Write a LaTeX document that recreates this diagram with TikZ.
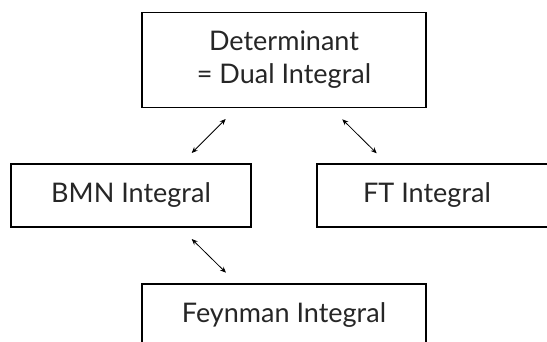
\documentclass[tikz,border=0pt]{standalone}
\usepackage{fontspec}
\setmainfont{Lato}
\usetikzlibrary{arrows.meta}
\begin{document}
\begin{tikzpicture}[x=1pt,y=-1pt,
  box/.style={draw=black, line width=1.3pt, inner sep=0pt, minimum width=240pt, minimum height=63pt,
    font=\fontsize{27}{33}\selectfont, text=black!85},
  lbl/.style={inner sep=0pt, font=\fontsize{27}{33}\selectfont, text=black!85},
  link/.style={line width=0.8pt, {Stealth[length=6pt,width=5pt]}-{Stealth[length=6pt,width=5pt]}}]
\useasboundingbox (0,0) rectangle (547,342);
\clip (0,0) rectangle (547,342);
\fill[white] (0,0) rectangle (547,342);
\node[box, minimum width=284pt, minimum height=95pt, align=center] (det) at (284,60) {Determinant\\= Dual Integral};
\node[box] (bmn) at (131,195.5) {BMN Integral};
\node[box] (ft) at (437,195.5) {};
\node[lbl] (ftt) at (427,195.5) {FT Integral};
\node[box, minimum width=284pt] (fey) at (284,315.5) {Feynman Integral};
\coordinate (a1) at (191.7,153);
\coordinate (a2) at (225.7,119);
\coordinate (b1) at (342.3,119.3);
\coordinate (b2) at (376.7,153.3);
\coordinate (c1) at (191.7,239);
\coordinate (c2) at (226,272.7);
\draw[link] (a1) -- (a2);
\draw[link] (b1) -- (b2);
\draw[link] (c1) -- (c2);
\end{tikzpicture}
\end{document}
